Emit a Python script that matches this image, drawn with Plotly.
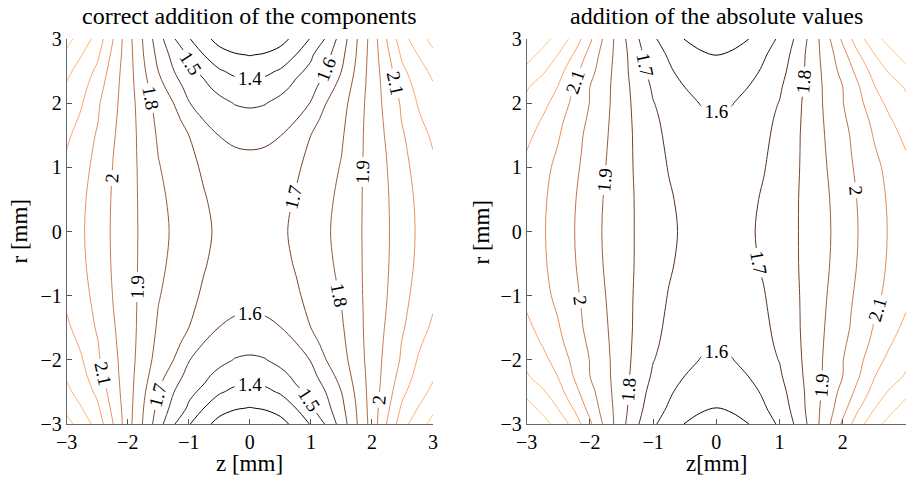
import plotly.graph_objects as go

# grid of sample positions (one quadrant; the field is mirror-symmetric in z and r)
Z_HALF = [0.0, 0.25, 0.5, 0.75, 1.0, 1.25, 1.5, 1.75, 2.0, 2.25, 2.5, 2.75, 3.0]
R_HALF = [0.0, 0.5, 1.0, 1.25, 1.5, 1.75, 2.0, 2.25, 2.5, 2.75, 3.0]

LEFT_R000 = [1.660, 1.665, 1.685, 1.716, 1.751, 1.787, 1.832, 1.882, 1.935, 1.991, 2.051, 2.110, 2.160]
LEFT_R050 = [1.651, 1.655, 1.672, 1.707, 1.743, 1.779, 1.823, 1.880, 1.936, 1.993, 2.056, 2.116, 2.166]
LEFT_R100 = [1.624, 1.631, 1.652, 1.686, 1.726, 1.765, 1.806, 1.875, 1.939, 2.000, 2.071, 2.131, 2.183]
LEFT_R125 = [1.603, 1.609, 1.627, 1.662, 1.720, 1.756, 1.797, 1.871, 1.940, 2.005, 2.080, 2.143, 2.198]
LEFT_R150 = [1.569, 1.576, 1.598, 1.652, 1.700, 1.744, 1.788, 1.867, 1.943, 2.013, 2.091, 2.155, 2.218]
LEFT_R175 = [1.530, 1.538, 1.558, 1.595, 1.653, 1.737, 1.777, 1.860, 1.945, 2.021, 2.107, 2.184, 2.241]
LEFT_R200 = [1.487, 1.496, 1.529, 1.565, 1.604, 1.700, 1.764, 1.850, 1.947, 2.030, 2.116, 2.205, 2.264]
LEFT_R225 = [1.431, 1.440, 1.470, 1.520, 1.568, 1.648, 1.740, 1.835, 1.946, 2.040, 2.143, 2.230, 2.287]
LEFT_R250 = [1.369, 1.380, 1.410, 1.480, 1.520, 1.603, 1.700, 1.820, 1.945, 2.055, 2.180, 2.256, 2.324]
LEFT_R275 = [1.297, 1.310, 1.340, 1.400, 1.487, 1.568, 1.673, 1.805, 1.944, 2.079, 2.220, 2.300, 2.378]
LEFT_R300 = [1.220, 1.230, 1.265, 1.330, 1.408, 1.510, 1.644, 1.794, 1.940, 2.107, 2.263, 2.356, 2.430]

# right panel: addition of the absolute values
RIGHT_R000 = [1.660, 1.666, 1.685, 1.718, 1.755, 1.791, 1.837, 1.886, 1.943, 2.002, 2.057, 2.110, 2.160]
RIGHT_R050 = [1.656, 1.661, 1.677, 1.711, 1.751, 1.790, 1.839, 1.890, 1.948, 2.007, 2.061, 2.115, 2.166]
RIGHT_R100 = [1.643, 1.649, 1.666, 1.695, 1.740, 1.785, 1.840, 1.900, 1.962, 2.020, 2.076, 2.130, 2.185]
RIGHT_R125 = [1.634, 1.640, 1.657, 1.688, 1.734, 1.783, 1.841, 1.905, 1.967, 2.029, 2.092, 2.148, 2.199]
RIGHT_R150 = [1.622, 1.628, 1.647, 1.680, 1.728, 1.781, 1.843, 1.910, 1.972, 2.036, 2.108, 2.165, 2.225]
RIGHT_R175 = [1.609, 1.617, 1.637, 1.675, 1.716, 1.776, 1.844, 1.916, 1.984, 2.054, 2.126, 2.194, 2.252]
RIGHT_R200 = [1.587, 1.597, 1.627, 1.670, 1.703, 1.770, 1.844, 1.922, 1.997, 2.075, 2.157, 2.230, 2.278]
RIGHT_R225 = [1.558, 1.570, 1.600, 1.646, 1.688, 1.760, 1.843, 1.925, 2.000, 2.093, 2.196, 2.250, 2.310]
RIGHT_R250 = [1.529, 1.540, 1.566, 1.614, 1.666, 1.744, 1.841, 1.935, 2.033, 2.132, 2.239, 2.315, 2.371]
RIGHT_R275 = [1.499, 1.510, 1.540, 1.590, 1.644, 1.732, 1.842, 1.948, 2.065, 2.190, 2.296, 2.370, 2.440]
RIGHT_R300 = [1.470, 1.477, 1.497, 1.551, 1.615, 1.710, 1.832, 1.970, 2.119, 2.265, 2.362, 2.440, 2.490]

TICKS = [-3, -2, -1, 0, 1, 2, 3]
TITLES = ["correct addition of the components", "addition of the absolute values"]
XLABELS = ["z [mm]", "z[mm]"]
YLABEL = "r [mm]"

LEFT_ROWS = [LEFT_R000, LEFT_R050, LEFT_R100, LEFT_R125, LEFT_R150, LEFT_R175,
             LEFT_R200, LEFT_R225, LEFT_R250, LEFT_R275, LEFT_R300]
RIGHT_ROWS = [RIGHT_R000, RIGHT_R050, RIGHT_R100, RIGHT_R125, RIGHT_R150, RIGHT_R175,
              RIGHT_R200, RIGHT_R225, RIGHT_R250, RIGHT_R275, RIGHT_R300]


def mirror(rows):
    z_full = [-v for v in Z_HALF[:0:-1]] + Z_HALF
    r_full = [-v for v in R_HALF[:0:-1]] + R_HALF
    zi = list(range(len(Z_HALF) - 1, 0, -1)) + list(range(len(Z_HALF)))
    ri = list(range(len(R_HALF) - 1, 0, -1)) + list(range(len(R_HALF)))
    grid = [[rows[i][j] for j in zi] for i in ri]
    return z_full, r_full, grid


COPPER = [[0.0, "rgb(0,0,0)"], [0.8, "rgb(255,159,101)"], [1.0, "rgb(255,199,127)"]]
SERIF = "Liberation Serif, Times New Roman, serif"

W, H = 908, 479


def px_x(x):
    return x / W


def px_y(y):
    return 1 - y / H


fig = go.Figure()
for k, (rows, zmin, zmax) in enumerate([(LEFT_ROWS, 1.22, 2.43), (RIGHT_ROWS, 1.47, 2.49)]):
    zf, rf, grid = mirror(rows)
    fig.add_trace(go.Contour(
        x=zf, y=rf, z=grid,
        xaxis="x" if k == 0 else "x2", yaxis="y" if k == 0 else "y2",
        autocontour=False,
        contours=dict(start=1.3, end=2.45, size=0.1, coloring="lines",
                      showlabels=True,
                      labelfont=dict(family=SERIF, size=19, color="black")),
        line=dict(width=1, smoothing=1.0),
        colorscale=COPPER, zmin=zmin, zmax=zmax, showscale=False,
        hoverinfo="skip",
    ))

axis_common = dict(range=[-3, 3], tickvals=TICKS, ticks="inside", ticklen=5,
                   tickcolor="#555", showline=True, linecolor="#666", linewidth=1,
                   showgrid=False, zeroline=False, mirror=False, automargin=False,
                   tickfont=dict(family=SERIF, size=20, color="black"))

XD = [[px_x(66.7), px_x(433)], [px_x(526.7), px_x(906)]]
YD = [px_y(424), px_y(39)]

fig.update_layout(
    width=W, height=H,
    margin=dict(l=0, r=0, t=0, b=0, autoexpand=False),
    paper_bgcolor="white", plot_bgcolor="white",
    showlegend=False,
    hovermode=False,
    xaxis=dict(domain=XD[0], anchor="y", **axis_common),
    yaxis=dict(domain=YD, anchor="x", **axis_common),
    xaxis2=dict(domain=XD[1], anchor="y2", **axis_common),
    yaxis2=dict(domain=YD, anchor="x2", **axis_common),
)

ann = []
for k in range(2):
    cx = (XD[k][0] + XD[k][1]) / 2
    ann.append(dict(text=TITLES[k], x=cx, y=px_y(16), xref="paper", yref="paper",
                    showarrow=False, xanchor="center", yanchor="middle",
                    font=dict(family=SERIF, size=24, color="black")))
    ann.append(dict(text=XLABELS[k], x=cx, y=px_y(463), xref="paper", yref="paper",
                    showarrow=False, xanchor="center", yanchor="middle",
                    font=dict(family=SERIF, size=23, color="black")))
    ylx = px_x(19) if k == 0 else px_x(481)
    ann.append(dict(text=YLABEL, x=ylx, y=(YD[0] + YD[1]) / 2, xref="paper", yref="paper",
                    showarrow=False, xanchor="center", yanchor="middle", textangle=-90,
                    font=dict(family=SERIF, size=23, color="black")))
fig.update_layout(annotations=ann)

# remove the default page margin so the figure sits at the window's top-left corner
fig.write_html("out.html", config={"displayModeBar": False, "staticPlot": True},
               post_script="document.body.style.margin='0px';")
